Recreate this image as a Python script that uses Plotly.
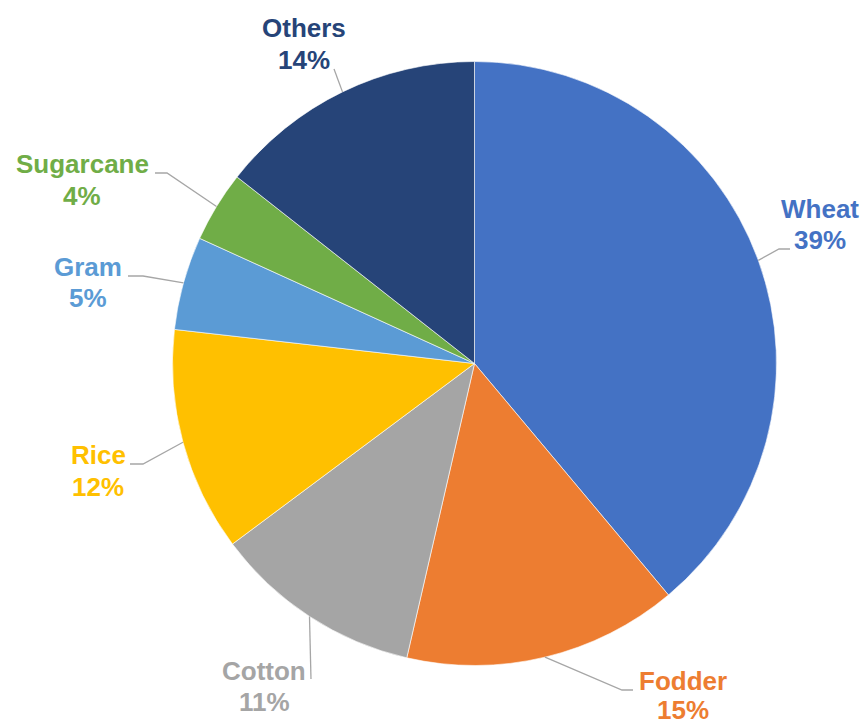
import math
import plotly.graph_objects as go

# ---- data ----
crops = ["Wheat", "Fodder", "Cotton", "Rice", "Gram", "Sugarcane", "Others"]
shares = [38.9, 14.7, 11.2, 12.0, 5.0, 3.8, 14.4]
colors = ["#4472C4", "#ED7D31", "#A5A5A5", "#FFC000", "#5B9BD5", "#70AD47", "#264478"]

# ---- layout (pixels) ----
W, H = 867, 724
CX, CY, R = 474.5, 363.5, 302
# label centres: (x, name y, pct y)
label_pos = [(820, 209, 240), (683, 681, 710), (264, 671, 702), (98, 455, 487),
             (88, 267, 298), (82, 164, 196), (304, 28, 60)]
# leader elbows and ends
elbows = [((779, 249), (790, 249)), ((622, 690), (633, 690)), ((311, 679), (311, 679)),
          ((143, 464), (130, 464)), ((143, 276), (128, 276)), ((167, 173), (155, 173)),
          ((334, 69), (334, 69))]

def px(x):
    return x / W

def py(y):
    return 1 - y / H

fig = go.Figure(go.Pie(
    labels=crops, values=shares, sort=False, direction="clockwise", rotation=0,
    marker=dict(colors=colors, line=dict(color="white", width=0.6)),
    textinfo="none", hoverinfo="label+percent",
    domain=dict(x=[px(CX - R), px(CX + R)], y=[py(CY + R), py(CY - R)]),
    showlegend=False,
))

total = sum(shares)
cum = 0
shapes = []
annotations = []
for i, (name, v) in enumerate(zip(crops, shares)):
    a = 2 * math.pi * (cum + v / 2) / total
    cum += v
    sx, sy = CX + R * math.sin(a), CY - R * math.cos(a)
    (ex, ey), (fx, fy) = elbows[i]
    path = f"M {px(sx)} {py(sy)} L {px(ex)} {py(ey)} L {px(fx)} {py(fy)}"
    shapes.append(dict(type="path", xref="paper", yref="paper", path=path,
                       line=dict(color="#A6A6A6", width=1.3)))
    lx, ny, pyy = label_pos[i]
    pct = int(math.floor(v / total * 100 + 0.5))
    for txt, yy in ((name, ny), (f"{pct}%", pyy)):
        annotations.append(dict(
            x=px(lx), y=py(yy), xref="paper", yref="paper", text=f"<b>{txt}</b>",
            showarrow=False, xanchor="center", yanchor="middle",
            font=dict(family="Liberation Sans, Arial, sans-serif", size=26, color=colors[i]),
        ))

fig.update_layout(
    width=W, height=H, margin=dict(l=0, r=0, t=0, b=0),
    paper_bgcolor="white", plot_bgcolor="white",
    shapes=shapes, annotations=annotations,
)
fig.write_html(
    "out.html",
    config={"displayModeBar": False},
    post_script="document.body.style.margin='0px';document.body.style.overflow='hidden';",
)
